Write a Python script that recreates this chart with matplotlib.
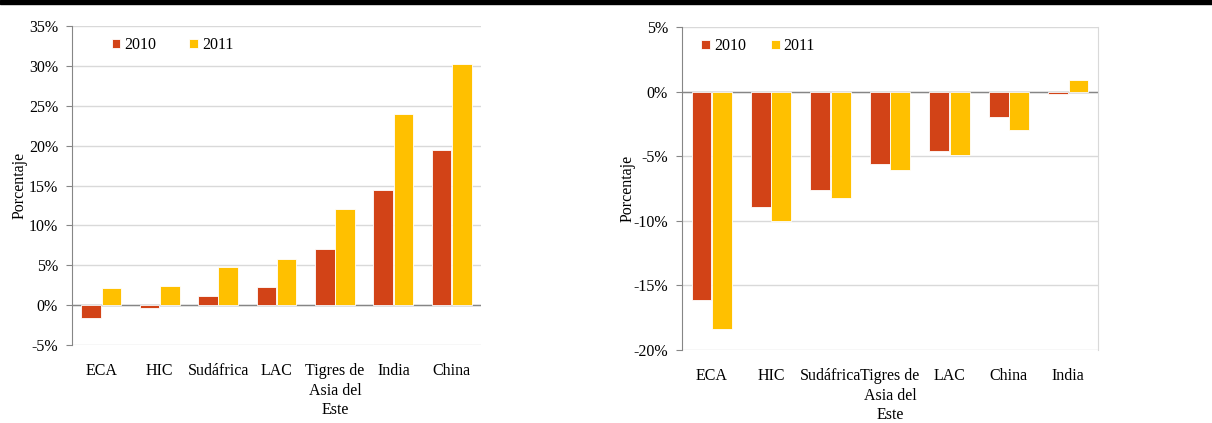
import matplotlib
matplotlib.use("Agg")
import matplotlib.pyplot as plt
import numpy as np
from matplotlib.ticker import FuncFormatter
from matplotlib.patches import Rectangle

# panel izquierdo
cat_izq = ['ECA', 'HIC', 'Sudáfrica', 'LAC', 'Tigres de\nAsia del\nEste', 'India', 'China']
izq_2010 = [-1.6, -0.3, 1.2, 2.3, 7.0, 14.4, 19.5]
izq_2011 = [2.2, 2.4, 4.8, 5.8, 12.0, 24.0, 30.2]

# panel derecho
cat_der = ['ECA', 'HIC', 'Sudáfrica', 'Tigres de\nAsia del\nEste', 'LAC', 'China', 'India']
der_2010 = [-16.1, -8.9, -7.6, -5.6, -4.6, -2.0, -0.2]
der_2011 = [-18.4, -10.0, -8.2, -6.1, -4.9, -3.0, 0.9]

ROJO = '#D24317'
AMARILLO = '#FFC000'

plt.rcParams['font.family'] = 'Liberation Serif'
plt.rcParams['font.size'] = 11.5

fig = plt.figure(figsize=(12.12, 4.23), dpi=100)
W, H = 1212, 423

def caja(x0, y0, x1, y1):
    return [x0 / W, 1 - y1 / H, (x1 - x0) / W, (y1 - y0) / H]

ax1 = fig.add_axes(caja(72, 26, 481, 345))
ax2 = fig.add_axes(caja(682, 27, 1098, 350))

def dibujar(ax, cats, v10, v11, ymin, ymax, borde_der, leg_x, col_sep, lab_x):
    x = np.arange(len(cats))
    ancho = 0.335
    ax.bar(x - ancho / 2 - 0.005, v10, ancho, color=ROJO, edgecolor='white',
           linewidth=0.6, label='2010', zorder=3)
    ax.bar(x + ancho / 2 + 0.005, v11, ancho, color=AMARILLO, edgecolor='white',
           linewidth=0.6, label='2011', zorder=3)
    ax.set_xlim(-0.5, len(cats) - 0.5)
    ax.set_ylim(ymin, ymax)
    ax.set_yticks(np.arange(ymin, ymax + 1, 5))
    ax.yaxis.set_major_formatter(FuncFormatter(lambda v, p: f'{v:.0f}%'))
    ax.grid(axis='y', color='#D9D9D9', linewidth=1, zorder=0)
    ax.axhline(0, color='#868686', linewidth=1, zorder=2)
    ax.set_xticks(x)
    ax.set_xticklabels(cats, linespacing=1.3)
    ax.tick_params(axis='x', length=0, pad=13)
    ax.tick_params(axis='y', length=4, width=0.8, color='#868686', pad=6)
    for s in ['top', 'bottom']:
        ax.spines[s].set_visible(False)
    ax.spines['left'].set_color('#868686')
    ax.spines['left'].set_linewidth(0.8)
    if borde_der:
        ax.spines['right'].set_color('#D9D9D9')
    else:
        ax.spines['right'].set_visible(False)
    ax.set_ylabel('Porcentaje')
    ax.yaxis.set_label_coords(lab_x, 0.5)
    ax.legend(loc='upper left', bbox_to_anchor=(leg_x, 0.985), ncol=2, frameon=False,
              handlelength=0.55, handleheight=0.55, handletextpad=0.25,
              columnspacing=col_sep, borderaxespad=0)

dibujar(ax1, cat_izq, izq_2010, izq_2011, -5, 35, False, 0.081, 2.05, -0.108)
dibujar(ax2, cat_der, der_2010, der_2011, -20, 5, True, 0.031, 1.55, -0.112)

# franja negra superior
fig.patches.append(Rectangle((0, 1 - 4 / H), 1, 4 / H, transform=fig.transFigure,
                             color='black', zorder=10))

fig.savefig('out.png', dpi=100)
